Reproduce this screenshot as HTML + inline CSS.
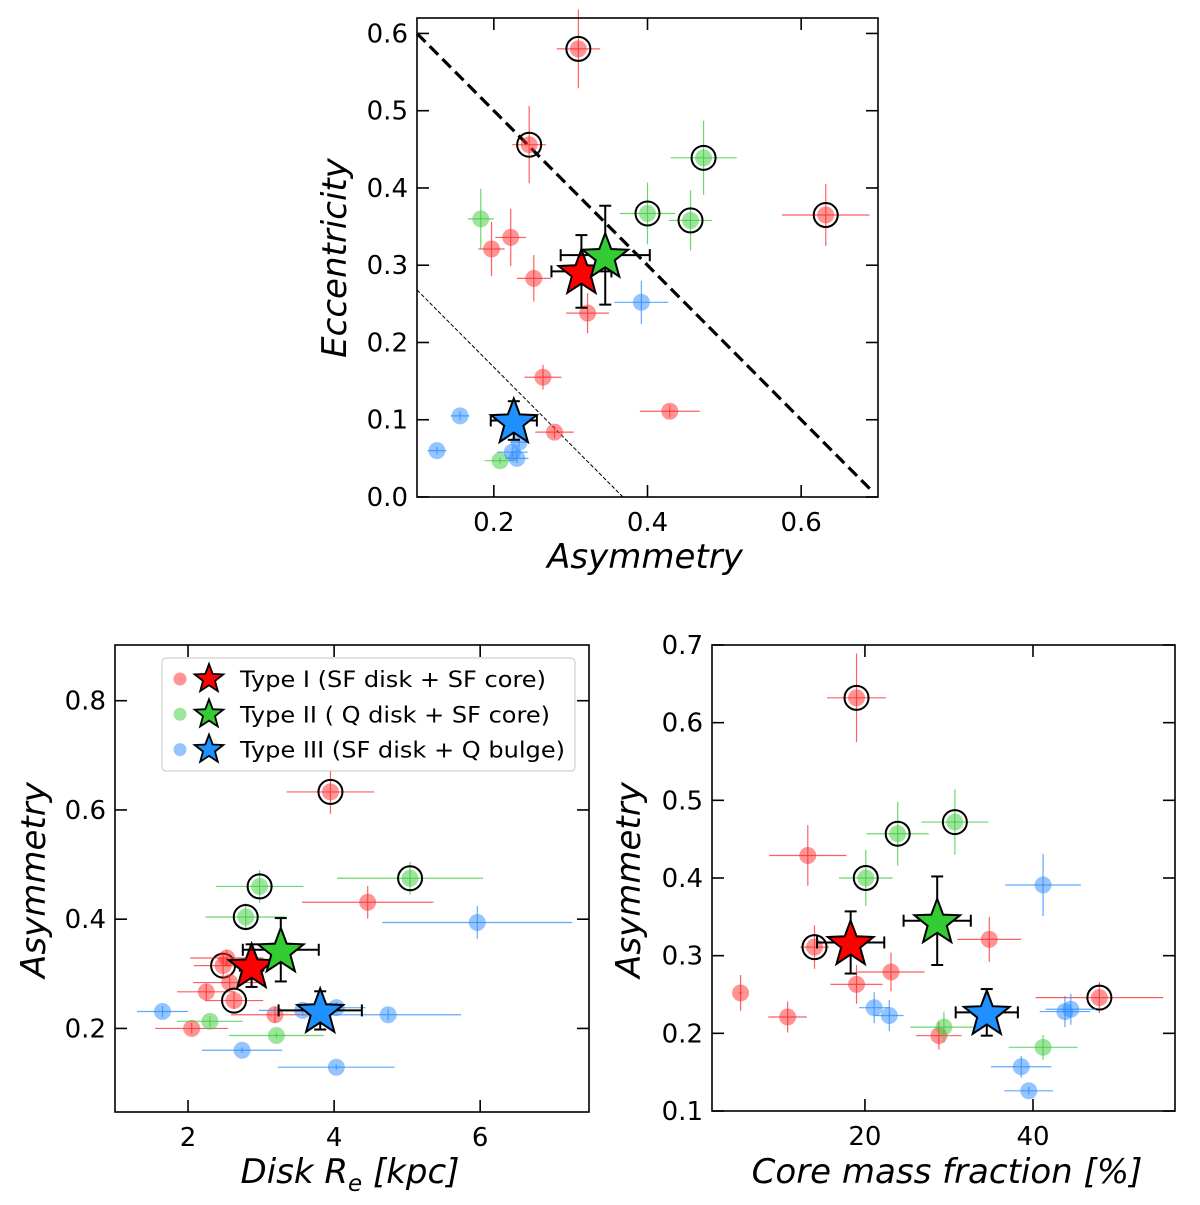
<!DOCTYPE html>
<html><head><meta charset="utf-8"><style>
body{margin:0;background:#fff}
svg{display:block;font-family:"DejaVu Sans","Liberation Sans",sans-serif}
</style></head><body>
<svg id="c" width="1200" height="1205" viewBox="0 0 1200 1205"></svg>
<script>
// ---- Panel A: Asymmetry vs Eccentricity
const aRedX=[0.310,0.246,0.197,0.222,0.252,0.322,0.264,0.279,0.429,0.632];
const aRedY=[0.580,0.456,0.321,0.336,0.283,0.238,0.155,0.084,0.111,0.365];
const aRedC=[1,1,0,0,0,0,0,0,0,1];
const aGreenX=[0.183,0.473,0.400,0.456,0.208];
const aGreenY=[0.360,0.439,0.367,0.358,0.047];
const aGreenC=[0,1,1,1,0];
const aBlueX=[0.392,0.156,0.126,0.230,0.224,0.233];
const aBlueY=[0.252,0.105,0.060,0.050,0.058,0.071];
const aStarX=[0.314,0.345,0.226],aStarY=[0.292,0.313,0.099];
const aStarXe=[0.039,0.058,0.030],aStarYe=[0.047,0.064,0.025];
// ---- Panel B: Disk Re vs Asymmetry
const bRedX=[3.95,4.46,2.48,2.53,2.57,2.25,2.63,2.05,3.19];
const bRedY=[0.633,0.431,0.315,0.329,0.284,0.267,0.251,0.200,0.225];
const bRedC=[1,0,1,0,0,0,1,0,0];
const bGreenX=[5.04,2.98,2.79,2.30,3.21];
const bGreenY=[0.475,0.460,0.404,0.213,0.187];
const bGreenC=[1,1,1,0,0];
const bBlueX=[5.96,1.65,3.57,4.03,4.74,2.74,4.03];
const bBlueY=[0.394,0.231,0.233,0.238,0.225,0.160,0.129];
const bStarX=[2.87,3.27,3.81],bStarY=[0.315,0.344,0.233];
const bStarXe=[0.16,0.52,0.57],bStarYe=[0.039,0.058,0.035];
// ---- Panel C: Core mass fraction vs Asymmetry
const cRedX=[19.0,13.2,14.0,5.2,10.8,19.0,23.1,34.8,28.8,47.9];
const cRedY=[0.632,0.429,0.311,0.252,0.221,0.263,0.279,0.321,0.197,0.246];
const cRedC=[1,0,1,0,0,0,0,0,0,1];
const cGreenX=[23.9,30.7,20.1,29.4,41.2];
const cGreenY=[0.457,0.472,0.400,0.208,0.182];
const cGreenC=[1,1,1,0,0];
const cBlueX=[41.2,21.1,22.9,43.8,44.5,38.6,39.5];
const cBlueY=[0.391,0.233,0.223,0.228,0.231,0.157,0.126];
const cStarX=[18.3,28.6,34.5],cStarY=[0.317,0.345,0.227];
const cStarXe=[4.0,4.0,3.7],cStarYe=[0.040,0.057,0.030];

const NS="http://www.w3.org/2000/svg",svg=document.getElementById('c');
function mk(t,a,p){const e=document.createElementNS(NS,t);for(const k in a)e.setAttribute(k,a[k]);(p||svg).appendChild(e);return e;}
const COL=['#ff2a2a','#3ccc3c','#2a8cff'],SCOL=['#ff0000','#33cc33','#1e90ff'];
function starPts(cx,cy,R){let s=[];for(let i=0;i<10;i++){const r=i%2?R*0.42:R,a=-Math.PI/2+i*Math.PI/5;s.push((cx+r*Math.cos(a)).toFixed(1)+','+(cy+r*Math.sin(a)).toFixed(1));}return s.join(' ');}

function panel(name,box,xd,yd,xt,yt,fmtx,fmty){
  const [L,T,R,B]=box;
  const sx=v=>L+(v-xd[0])/(xd[1]-xd[0])*(R-L), sy=v=>B-(v-yd[0])/(yd[1]-yd[0])*(B-T);
  const g=mk('g',{});
  
  
  const pl=mk('g',{},g);
  const ax=mk('g',{},g);
  
  
  mk('rect',{x:L,y:T,width:R-L,height:B-T,fill:'none',stroke:'#000','stroke-width':1.6},ax);
  xt.forEach(v=>{const x=sx(v);
    mk('line',{x1:x,x2:x,y1:B,y2:B-12,stroke:'#000','stroke-width':1.6},ax);
    mk('line',{x1:x,x2:x,y1:T,y2:T+12,stroke:'#000','stroke-width':1.6},ax);
    const t=mk('text',{x:x,y:B+34,'text-anchor':'middle','font-size':26},ax);t.textContent=fmtx(v);
    
    });
  yt.forEach(v=>{const y=sy(v);
    mk('line',{x1:L,x2:L+12,y1:y,y2:y,stroke:'#000','stroke-width':1.6},ax);
    mk('line',{x1:R,x2:R-12,y1:y,y2:y,stroke:'#000','stroke-width':1.6},ax);
    const t=mk('text',{x:L-9,y:y+9,'text-anchor':'end','font-size':26},ax);t.textContent=fmty(v);
    
    });
  return {sx,sy,g:pl};
}
function pts(P,X,Y,C,ci,xe,ye){
  for(let i=0;i<X.length;i++){const x=P.sx(X[i]),y=P.sy(Y[i]);
    const gg=mk('g',{},P.g);
    
    
    mk('line',{x1:P.sx(X[i]-xe[i%xe.length]),x2:P.sx(X[i]+xe[i%xe.length]),y1:y,y2:y,stroke:COL[ci],'stroke-width':1.2,opacity:0.75},gg);
    mk('line',{x1:x,x2:x,y1:P.sy(Y[i]-ye[i%ye.length]),y2:P.sy(Y[i]+ye[i%ye.length]),stroke:COL[ci],'stroke-width':1.2,opacity:0.75},gg);
    mk('circle',{cx:x,cy:y,r:8.5,fill:COL[ci],opacity:0.5},gg);
    if(C&&C[i])mk('circle',{cx:x,cy:y,r:12,fill:'none',stroke:'#000','stroke-width':2},gg);
  }
}
function stars(P,X,Y,XE,YE){
  for(let i=0;i<X.length;i++){const x=P.sx(X[i]),y=P.sy(Y[i]);
    const gg=mk('g',{},P.g);
    
    
    const x1=P.sx(X[i]-XE[i]),x2=P.sx(X[i]+XE[i]),y1=P.sy(Y[i]-YE[i]),y2=P.sy(Y[i]+YE[i]);
    const st={stroke:'#000','stroke-width':2};
    mk('line',Object.assign({x1:x1,x2:x2,y1:y,y2:y},st),gg);
    mk('line',Object.assign({x1:x,x2:x,y1:y1,y2:y2},st),gg);
    mk('line',Object.assign({x1:x1,x2:x1,y1:y-6,y2:y+6},st),gg);
    mk('line',Object.assign({x1:x2,x2:x2,y1:y-6,y2:y+6},st),gg);
    mk('line',Object.assign({x1:x-6,x2:x+6,y1:y1,y2:y1},st),gg);
    mk('line',Object.assign({x1:x-6,x2:x+6,y1:y2,y2:y2},st),gg);
    mk('polygon',{points:starPts(x,y+2,24),fill:SCOL[i],stroke:'#000','stroke-width':2,'stroke-linejoin':'miter'},gg);
  }
}
function label(txt,x,y,rot,name){const t=mk('text',{x:x,y:y,'text-anchor':'middle','font-size':34,'font-style':'italic',transform:rot?`rotate(-90 ${x} ${y})`:''});t.innerHTML=txt;
  
  }

// Panel A
const A=panel('asym-ecc-panel',[417,18,878,497],[0.1,0.7],[0,0.62],[0.2,0.4,0.6],[0,0.1,0.2,0.3,0.4,0.5,0.6],v=>v.toFixed(1),v=>v.toFixed(1));
const dl1=mk('line',{x1:A.sx(0.1),y1:A.sy(0.6),x2:A.sx(0.694),y2:A.sy(0.006),stroke:'#000','stroke-width':3.2,'stroke-dasharray':'12,6'},A.g);


const dl2=mk('line',{x1:A.sx(0.1),y1:A.sy(0.268),x2:A.sx(0.368),y2:A.sy(0.0),stroke:'#000','stroke-width':1,'stroke-dasharray':'4,2'},A.g);


pts(A,aRedX,aRedY,aRedC,0,[0.028,0.022,0.017,0.02,0.022,0.028,0.024,0.025,0.039,0.057],[0.051,0.05,0.035,0.037,0.03,0.026,0.016,0.008,0.008,0.04]);
pts(A,aGreenX,aGreenY,aGreenC,1,[0.017,0.043,0.036,0.028,0.02],[0.039,0.048,0.04,0.039,0.004]);
pts(A,aBlueX,aBlueY,null,2,[0.035,0.012,0.012,0.015,0.02,0.012],[0.028,0.006,0.005,0.006,0.006,0.006]);
stars(A,aStarX,aStarY,aStarXe,aStarYe);
label('Asymmetry',645,568,false,'x-axis-title');
label('Eccentricity',346,258,true,'y-axis-title');

// Panel B
const Bp=panel('re-asym-panel',[115,645,589,1112],[1.0,7.49],[0.047,0.902],[2,4,6],[0.2,0.4,0.6,0.8],v=>v,v=>v.toFixed(1));
pts(Bp,bRedX,bRedY,bRedC,0,[0.6,0.9,0.4,0.5,0.5,0.4,0.4,0.5,0.6],[0.04,0.03,0.02,0.015,0.015,0.015,0.015,0.01,0.015]);
pts(Bp,bGreenX,bGreenY,bGreenC,1,[1.0,0.6,0.55,0.45,0.65],[0.03,0.03,0.025,0.01,0.005]);
pts(Bp,bBlueX,bBlueY,null,2,[1.3,0.35,0.6,0.4,1.0,0.55,0.8],[0.03,0.01,0.01,0.01,0.01,0.005,0.005]);
stars(Bp,bStarX,bStarY,bStarXe,bStarYe);
label('Disk <tspan>R</tspan><tspan font-size="23" dy="8">e</tspan><tspan dy="-8"> [kpc]</tspan>',350,1183,false,'x-axis-title');
label('Asymmetry',45,880,true,'y-axis-title');
// legend
const lg=mk('g',{});


mk('rect',{x:162,y:658,width:413,height:113,rx:4,fill:'#fff',stroke:'#ccc','stroke-width':1.2,opacity:0.9},lg);
const labs=['Type I (SF disk + SF core)','Type II ( Q disk + SF core)','Type III (SF disk + Q bulge)'];
const labW=[306,310,325];
labs.forEach((s,i)=>{const y=679+i*35.3;
  const e=mk('g',{},lg);
  
  
  mk('circle',{cx:180,cy:y,r:6.5,fill:COL[i],opacity:0.5},e);
  mk('polygon',{points:starPts(209,y,15),fill:SCOL[i],stroke:'#000','stroke-width':1.8},e);
  const t=mk('text',{x:240,y:y+8,'font-size':22,textLength:labW[i],lengthAdjust:'spacingAndGlyphs'},e);t.textContent=s;});

// Panel C
const Cp=panel('core-asym-panel',[712,645,1175,1111],[1.8,56.9],[0.1,0.7],[20,40],[0.1,0.2,0.3,0.4,0.5,0.6,0.7],v=>v,v=>v.toFixed(1));
pts(Cp,cRedX,cRedY,cRedC,0,[3.5,4.6,1.7,0.2,2.3,3.1,4.0,3.8,2.7,7.6],[0.057,0.039,0.028,0.023,0.02,0.025,0.025,0.029,0.018,0.02]);
pts(Cp,cGreenX,cGreenY,cGreenC,1,[3.7,4.0,3.2,4.0,4.1],[0.041,0.042,0.036,0.02,0.016]);
pts(Cp,cBlueX,cBlueY,null,2,[4.5,1.8,1.7,3.0,3.0,3.6,2.9],[0.04,0.02,0.02,0.02,0.02,0.014,0.005]);
stars(Cp,cStarX,cStarY,cStarXe,cStarYe);
label('Core mass fraction [%]',947,1183,false,'x-axis-title');
label('Asymmetry',640,880,true,'y-axis-title');
</script>
</body></html>
